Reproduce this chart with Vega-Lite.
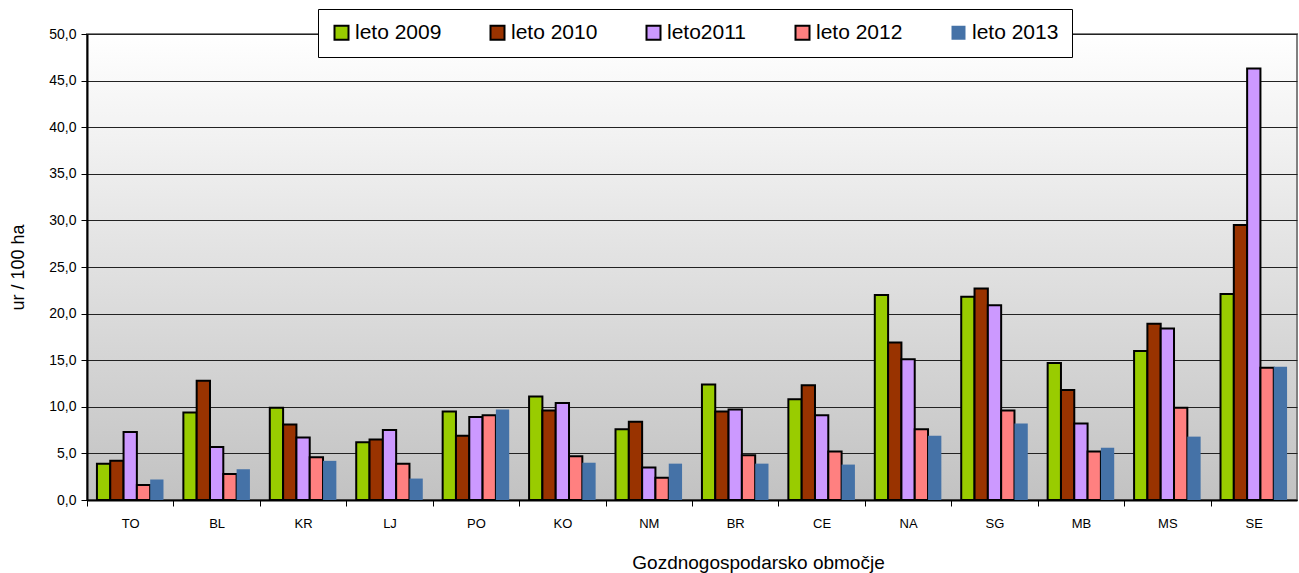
{
  "$schema": "https://vega.github.io/schema/vega-lite/v6.json",
  "width": 1210,
  "height": 466,
  "autosize": {"type": "none"},
  "padding": {"left": 87, "top": 34, "right": 2, "bottom": 73},
  "background": "#ffffff",
  "config": {
    "font": "Liberation Sans",
    "view": {
      "stroke": "#808080",
      "strokeWidth": 2,
      "fill": {"gradient": "linear", "x1": 0, "y1": 0, "x2": 0, "y2": 1,
        "stops": [{"offset": 0, "color": "#ffffff"}, {"offset": 1, "color": "#c2c2c2"}]}
    }
  },
  "data": {
    "values": [
      {"area": "TO", "year": "leto 2009", "value": 3.9},
      {"area": "TO", "year": "leto 2010", "value": 4.2},
      {"area": "TO", "year": "leto2011", "value": 7.3},
      {"area": "TO", "year": "leto 2012", "value": 1.6},
      {"area": "TO", "year": "leto 2013", "value": 2.2},
      {"area": "BL", "year": "leto 2009", "value": 9.4},
      {"area": "BL", "year": "leto 2010", "value": 12.8},
      {"area": "BL", "year": "leto2011", "value": 5.7},
      {"area": "BL", "year": "leto 2012", "value": 2.8},
      {"area": "BL", "year": "leto 2013", "value": 3.3},
      {"area": "KR", "year": "leto 2009", "value": 9.9},
      {"area": "KR", "year": "leto 2010", "value": 8.1},
      {"area": "KR", "year": "leto2011", "value": 6.7},
      {"area": "KR", "year": "leto 2012", "value": 4.6},
      {"area": "KR", "year": "leto 2013", "value": 4.2},
      {"area": "LJ", "year": "leto 2009", "value": 6.2},
      {"area": "LJ", "year": "leto 2010", "value": 6.5},
      {"area": "LJ", "year": "leto2011", "value": 7.5},
      {"area": "LJ", "year": "leto 2012", "value": 3.9},
      {"area": "LJ", "year": "leto 2013", "value": 2.3},
      {"area": "PO", "year": "leto 2009", "value": 9.5},
      {"area": "PO", "year": "leto 2010", "value": 6.9},
      {"area": "PO", "year": "leto2011", "value": 8.9},
      {"area": "PO", "year": "leto 2012", "value": 9.1},
      {"area": "PO", "year": "leto 2013", "value": 9.7},
      {"area": "KO", "year": "leto 2009", "value": 11.1},
      {"area": "KO", "year": "leto 2010", "value": 9.6},
      {"area": "KO", "year": "leto2011", "value": 10.4},
      {"area": "KO", "year": "leto 2012", "value": 4.7},
      {"area": "KO", "year": "leto 2013", "value": 4.0},
      {"area": "NM", "year": "leto 2009", "value": 7.6},
      {"area": "NM", "year": "leto 2010", "value": 8.4},
      {"area": "NM", "year": "leto2011", "value": 3.5},
      {"area": "NM", "year": "leto 2012", "value": 2.4},
      {"area": "NM", "year": "leto 2013", "value": 3.9},
      {"area": "BR", "year": "leto 2009", "value": 12.4},
      {"area": "BR", "year": "leto 2010", "value": 9.5},
      {"area": "BR", "year": "leto2011", "value": 9.7},
      {"area": "BR", "year": "leto 2012", "value": 4.8},
      {"area": "BR", "year": "leto 2013", "value": 3.9},
      {"area": "CE", "year": "leto 2009", "value": 10.8},
      {"area": "CE", "year": "leto 2010", "value": 12.3},
      {"area": "CE", "year": "leto2011", "value": 9.1},
      {"area": "CE", "year": "leto 2012", "value": 5.2},
      {"area": "CE", "year": "leto 2013", "value": 3.8},
      {"area": "NA", "year": "leto 2009", "value": 22.0},
      {"area": "NA", "year": "leto 2010", "value": 16.9},
      {"area": "NA", "year": "leto2011", "value": 15.1},
      {"area": "NA", "year": "leto 2012", "value": 7.6},
      {"area": "NA", "year": "leto 2013", "value": 6.9},
      {"area": "SG", "year": "leto 2009", "value": 21.8},
      {"area": "SG", "year": "leto 2010", "value": 22.7},
      {"area": "SG", "year": "leto2011", "value": 20.9},
      {"area": "SG", "year": "leto 2012", "value": 9.6},
      {"area": "SG", "year": "leto 2013", "value": 8.2},
      {"area": "MB", "year": "leto 2009", "value": 14.7},
      {"area": "MB", "year": "leto 2010", "value": 11.8},
      {"area": "MB", "year": "leto2011", "value": 8.2},
      {"area": "MB", "year": "leto 2012", "value": 5.2},
      {"area": "MB", "year": "leto 2013", "value": 5.6},
      {"area": "MS", "year": "leto 2009", "value": 16.0},
      {"area": "MS", "year": "leto 2010", "value": 18.9},
      {"area": "MS", "year": "leto2011", "value": 18.4},
      {"area": "MS", "year": "leto 2012", "value": 9.9},
      {"area": "MS", "year": "leto 2013", "value": 6.8},
      {"area": "SE", "year": "leto 2009", "value": 22.1},
      {"area": "SE", "year": "leto 2010", "value": 29.5},
      {"area": "SE", "year": "leto2011", "value": 46.3},
      {"area": "SE", "year": "leto 2012", "value": 14.2},
      {"area": "SE", "year": "leto 2013", "value": 14.3}
    ]
  },
  "mark": {"type": "bar", "strokeWidth": 2},
  "encoding": {
    "x": {
      "field": "area", "type": "nominal", "sort": null,
      "scale": {"paddingInner": 0.23, "paddingOuter": 0.115},
      "axis": {
        "title": "Gozdnogospodarsko območje",
        "titleFontSize": 19, "titleFontWeight": "normal", "titleColor": "#000",
        "titleX": 671, "titleY": 68, "titleBaseline": "alphabetic",
        "labelAngle": 0, "labelFontSize": 13, "labelColor": "#000", "labelPadding": 11,
        "bandPosition": 0.5,
        "ticks": true, "tickOffset": -43.2, "labelOffset": 43.2,
        "tickSize": 6, "tickColor": "#000", "tickWidth": 1,
        "domainColor": "#000", "domainWidth": 2, "grid": false
      }
    },
    "xOffset": {"field": "year", "type": "nominal", "sort": null, "scale": {"paddingInner": 0, "paddingOuter": 0}},
    "y": {
      "field": "value", "type": "quantitative",
      "scale": {"domain": [0, 50], "nice": false},
      "axis": {
        "title": "ur / 100 ha",
        "titleFontSize": 18, "titleFontWeight": "normal", "titleColor": "#000",
        "titleX": -60, "titleY": 233,
        "values": [0, 5, 10, 15, 20, 25, 30, 35, 40, 45, 50],
        "labelExpr": "replace(format(datum.value, '.1f'), '.', ',')",
        "labelFontSize": 14, "labelColor": "#000", "labelPadding": 5,
        "tickSize": 6, "tickColor": "#000", "tickWidth": 1,
        "domainColor": "#000", "domainWidth": 2,
        "grid": true, "gridColor": "#222", "gridWidth": 1
      }
    },
    "fill": {
      "field": "year", "type": "nominal", "sort": null,
      "scale": {
        "domain": ["leto 2009", "leto 2010", "leto2011", "leto 2012", "leto 2013"],
        "range": ["#99cc00", "#993300", "#cc99ff", "#ff8080", "#4572a7"]
      },
      "legend": {
        "title": null, "orient": "none", "legendX": 231, "legendY": -25,
        "direction": "horizontal", "columns": 5, "columnPadding": 44,
        "symbolType": "square", "symbolSize": 196, "symbolStrokeWidth": 2, "symbolOffset": 0,
        "labelFontSize": 21, "labelColor": "#000", "labelOffset": 3, "labelLimit": 200,
        "fillColor": "#ffffff", "strokeColor": "#000000", "padding": 13
      }
    },
    "stroke": {
      "field": "year", "type": "nominal", "sort": null,
      "scale": {
        "domain": ["leto 2009", "leto 2010", "leto2011", "leto 2012", "leto 2013"],
        "range": ["#000000", "#000000", "#000000", "#000000", "transparent"]
      }
    }
  }
}
